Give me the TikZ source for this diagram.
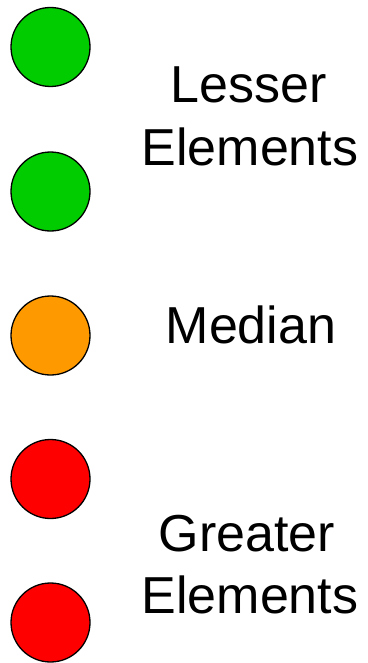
\documentclass[tikz,border=0pt]{standalone}
\usepackage{fontspec}
\setmainfont{Liberation Sans}
\definecolor{cgreen}{HTML}{00CC00}
\definecolor{corange}{HTML}{FF9900}
\definecolor{cred}{HTML}{FF0000}
\tikzset{
  dot/.style={circle, draw=black, line width=1.3pt, minimum size=79pt, inner sep=0pt},
  lbl/.style={anchor=base, inner sep=0pt, font=\fontsize{52}{62}\selectfont}
}
\begin{document}
\begin{tikzpicture}[x=1pt,y=-1pt]
\useasboundingbox (0,0) rectangle (367,663);
\node[dot, fill=cgreen] (c1) at (50.5,47) {};
\node[dot, fill=cgreen] (c2) at (50.5,191.5) {};
\node[dot, fill=corange] (c3) at (50.5,335.5) {};
\node[dot, fill=cred] (c4) at (50.5,479) {};
\node[dot, fill=cred] (c5) at (50.5,622.5) {};
\node[lbl] (t1) at (249,103) {Lesser};
\node[lbl] (t2) at (250,165) {Elements};
\node[lbl] (t3) at (251,343) {Median};
\node[lbl] (t4) at (247,551) {Greater};
\node[lbl] (t5) at (250,613) {Elements};
\end{tikzpicture}
\end{document}
